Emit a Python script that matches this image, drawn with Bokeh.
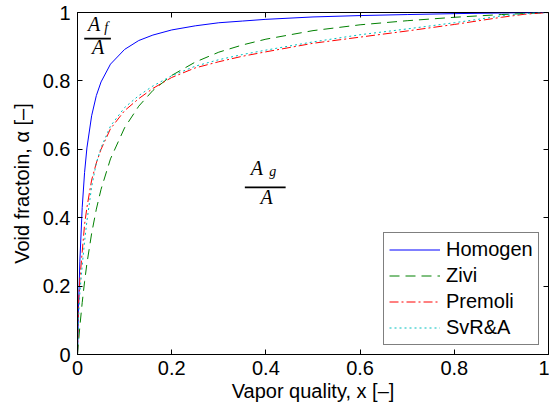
from bokeh.plotting import figure
from bokeh.models import Range1d, FixedTicker, LinearAxis, Label, Legend, LegendItem
from bokeh.embed import file_html
from bokeh.resources import INLINE

# ---- data ----
quality = [0, 0.002, 0.005, 0.01, 0.015, 0.02, 0.03, 0.04, 0.05, 0.07, 0.1, 0.13, 0.16,
           0.2, 0.25, 0.3, 0.35, 0.4, 0.5, 0.6, 0.7, 0.8, 0.9, 0.95, 1.0]
homogen = [0, 0.130, 0.273, 0.430, 0.532, 0.604, 0.698, 0.757, 0.797, 0.849, 0.892, 0.918, 0.934,
           0.949, 0.961, 0.970, 0.975, 0.980, 0.987, 0.991, 0.994, 0.9967, 0.9985, 0.9993, 1.0]
zivi = [0, 0.034, 0.082, 0.152, 0.213, 0.266, 0.354, 0.425, 0.483, 0.572, 0.663, 0.726, 0.772,
        0.816, 0.855, 0.884, 0.905, 0.922, 0.947, 0.964, 0.976, 0.986, 0.994, 0.997, 1.0]
premoli = [0, 0.14, 0.22, 0.30, 0.38, 0.43, 0.51, 0.56, 0.60, 0.66, 0.713, 0.748, 0.778,
           0.81, 0.838, 0.856, 0.872, 0.885, 0.91, 0.928, 0.946, 0.965, 0.986, 0.995, 1.0]
svra = [0, 0.10, 0.18, 0.26, 0.33, 0.39, 0.49, 0.56, 0.605, 0.668, 0.722, 0.757, 0.785,
        0.815, 0.843, 0.862, 0.877, 0.89, 0.914, 0.935, 0.952, 0.97, 0.99, 0.997, 1.0]

series_names = ["Homogen", "Zivi", "Premoli", "SvR&A"]
tick_values = [0, 0.2, 0.4, 0.6, 0.8, 1.0]
tick_labels = ["0", "0.2", "0.4", "0.6", "0.8", "1"]

FONT = "Liberation Sans"

p = figure(width=549, height=404, output_backend="svg", toolbar_location=None,
           x_range=Range1d(0, 1), y_range=Range1d(0, 1),
           min_border_left=77, min_border_right=1, min_border_top=12, min_border_bottom=50)
p.xgrid.visible = False
p.ygrid.visible = False
p.outline_line_color = "black"
p.outline_line_width = 1
p.background_fill_color = "white"
p.border_fill_color = "white"

overrides = {v: s for v, s in zip(tick_values, tick_labels)}
for ax in (p.xaxis[0], p.yaxis[0]):
    ax.ticker = FixedTicker(ticks=tick_values)
    ax.major_label_overrides = overrides
    ax.minor_tick_line_color = None
    ax.major_tick_in = 5
    ax.major_tick_out = 0
    ax.major_label_text_font = FONT
    ax.major_label_text_font_size = "20px"
    ax.major_label_text_color = "black"
    ax.axis_label_text_font = FONT
    ax.axis_label_text_font_size = "20px"
    ax.axis_label_text_font_style = "normal"
    ax.axis_label_text_color = "black"
    ax.axis_line_color = "black"
    ax.major_tick_line_color = "black"

p.xaxis.axis_label = "Vapor quality, x [–]"
p.yaxis.axis_label = "Void fractoin, α [–]"
p.xaxis.major_label_standoff = 6
p.xaxis.axis_label_standoff = 2
p.yaxis.major_label_standoff = 7
p.yaxis.axis_label_standoff = 7

blank = {v: "" for v in tick_values}
for side in ("above", "right"):
    ax = LinearAxis(ticker=FixedTicker(ticks=tick_values), major_tick_in=5, major_tick_out=0,
                    minor_tick_line_color=None, major_label_overrides=blank,
                    major_label_text_font_size="1px",
                    major_label_standoff=0, axis_line_color=None, major_tick_line_color="black")
    p.add_layout(ax, side)

r1 = p.line(quality, homogen, line_color="#0000FF", line_width=1)
r2 = p.line(quality, zivi, line_color="#008000", line_width=1, line_dash="10 6")
r3 = p.line(quality, premoli, line_color="#FF0000", line_width=1, line_dash="9 3 2 3")
r4 = p.line(quality, svra, line_color="#00BFBF", line_width=1, line_dash="2 3")

legend = Legend(items=[LegendItem(label=n, renderers=[r]) for n, r in zip(series_names, [r1, r2, r3, r4])],
                location=(306, 9), margin=0, padding=5, spacing=3,
                label_text_font=FONT, label_text_font_size="20px", label_text_color="black",
                glyph_width=51, glyph_height=21, label_height=21, label_standoff=6,
                border_line_color="black", border_line_width=1, background_fill_alpha=1)
p.add_layout(legend)

# ---- fraction annotations (A_f / A and A_g / A) ----
SERIF = "Liberation Serif"
TXT_SHIFT = 0.025  # compensates the renderer's baseline offset

def lab(x, y, t, size):
    p.add_layout(Label(x=x, y=y + TXT_SHIFT, text=t, text_font=SERIF, text_font_style="italic",
                       text_font_size=size, text_align="center" if t == "A" else "left",
                       text_baseline="alphabetic", text_color="black"))

def frac(cx_num, base_num, sub, sub_x, sub_base, bar_x0, bar_x1, bar_y, cx_den, base_den):
    lab(cx_num, base_num, "A", "20px")
    lab(sub_x, sub_base, sub, "14px")
    lab(cx_den, base_den, "A", "20px")
    p.segment(x0=[bar_x0], y0=[bar_y], x1=[bar_x1], y1=[bar_y], line_color="black", line_width=1.8)

frac(0.0355, 0.9411, "f", 0.0568, 0.9323, 0.0143, 0.0709, 0.9234, 0.0436, 0.8742)
frac(0.3809, 0.5199, "g", 0.4070, 0.5111, 0.3553, 0.4419, 0.4884, 0.4015, 0.4365)

open("out.html", "w").write(file_html(p, INLINE))
